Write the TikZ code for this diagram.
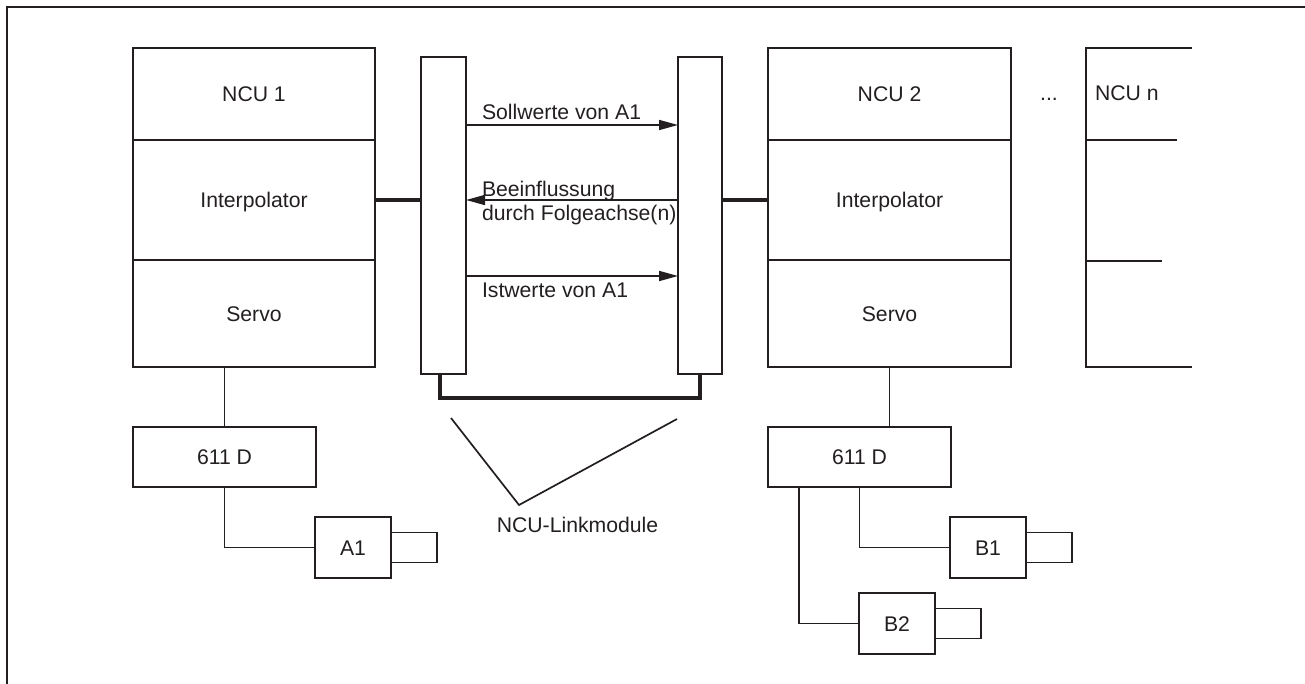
\documentclass[tikz,border=0pt]{standalone}
\usepackage{fontspec}
\setmainfont{Liberation Sans}
\usetikzlibrary{arrows.meta}
\definecolor{lc}{RGB}{35,31,32}
\tikzset{
  every node/.style={font=\fontsize{21.2}{24}\selectfont, text=lc},
  blk/.style={draw=lc, line width=1.7pt, anchor=north west, inner sep=0pt, outer sep=0pt, text height=15.2pt, text depth=0pt},
  thinln/.style={draw=lc, line width=1.7pt},
  thickln/.style={draw=lc, line width=4pt, line join=miter},
  frameln/.style={draw=lc, line width=2.4pt},
  arr/.style={thinln, -{Triangle[length=19pt, width=10pt]}},
  lbl/.style={inner sep=0pt, outer sep=0pt}
}
\begin{document}
\begin{tikzpicture}[x=1pt, y=-1pt]
\useasboundingbox (0,0) rectangle (1305,684);
% frame
\draw[frameln] (7,684) -- (7,7) -- (1305,7);

% NCU 1
\node[blk, minimum width=242pt, minimum height=92pt] (ncu1) at (133,48) {NCU 1};
\node[blk, minimum width=242pt, minimum height=120pt] (ipo1) at (133,140) {Interpolator};
\node[blk, minimum width=242pt, minimum height=107pt] (servo1) at (133,260) {Servo};

% NCU 2
\node[blk, minimum width=243pt, minimum height=92pt] (ncu2) at (768,48) {NCU 2};
\node[blk, minimum width=243pt, minimum height=120pt] (ipo2) at (768,140) {Interpolator};
\node[blk, minimum width=243pt, minimum height=107pt] (servo2) at (768,260) {Servo};

% link modules
\node[blk, minimum width=45pt, minimum height=317pt] (lm1) at (421,57) {};
\node[blk, minimum width=44pt, minimum height=317pt] (lm2) at (678,57) {};

% thick connections
\draw[thickln] (ipo1.east) -- (ipo1.east -| lm1.west);
\draw[thickln] (ipo2.west -| lm2.east) -- (ipo2.west);
\draw[thickln] ([xshift=-3.5pt]lm1.south) -- ++(0,24) -| (lm2.south);

% arrows between link modules
\draw[arr] (lm1.east |- 0,125) -- (lm2.west |- 0,125);
\draw[arr] (lm2.west |- 0,200) -- (lm1.east |- 0,200);
\draw[arr] (lm1.east |- 0,276) -- (lm2.west |- 0,276);
\node[lbl, anchor=base west] (t1) at (482,120) {Sollwerte von A1};
\node[lbl, anchor=north west, align=left] (t2) at (482,181) {Beeinflussung\\durch Folgeachse(n)};
\node[lbl, anchor=base west] (t3) at (482,298) {Istwerte von A1};

% NCU n (partial)
\node[lbl, anchor=base] (dots) at (1049,101) {...};
\node[lbl, anchor=base west] (ncun) at (1095,101) {NCU n};
\draw[thinln] (1192,48) -- (1086,48) -- (1086,367) -- (1192,367);
\draw[thinln] (1086,140) -- (1177,140);
\draw[thinln] (1086,261) -- (1162,261);

% drives left
\node[blk, minimum width=183pt, minimum height=60pt] (d1) at (133,427) {611 D};
\draw[thinln] (d1.north) -- (d1.north |- servo1.south);
\node[blk, minimum width=76pt, minimum height=61pt] (a1) at (315,517) {A1};
\node[blk, anchor=west, minimum width=46pt, minimum height=30pt] (a1s) at (a1.east) {};
\draw[thinln] (d1.south) |- (a1.west);

% drives right
\node[blk, minimum width=183pt, minimum height=60pt] (d2) at (768,427) {611 D};
\draw[thinln] (servo2.south) -- (servo2.south |- d2.north);
\node[blk, minimum width=76pt, minimum height=61pt] (b1) at (950,517) {B1};
\node[blk, anchor=west, minimum width=46pt, minimum height=30pt] (b1s) at (b1.east) {};
\node[blk, minimum width=76pt, minimum height=61pt] (b2) at (859,593) {B2};
\node[blk, anchor=west, minimum width=46pt, minimum height=30pt] (b2s) at (b2.east) {};
\draw[thinln] (d2.south) |- (b1.west);
\draw[thinln] ([xshift=-60.5pt]d2.south) |- (b2.west);

% NCU-Linkmodule pointer
\coordinate (vl) at (451,418);
\coordinate (va) at (519,505);
\coordinate (vr) at (677,419);
\draw[thinln, line join=miter] (vl) -- (va) -- (vr);
\node[lbl, anchor=base] (lmlabel) at (577.5,532) {NCU-Linkmodule};
\end{tikzpicture}
\end{document}
